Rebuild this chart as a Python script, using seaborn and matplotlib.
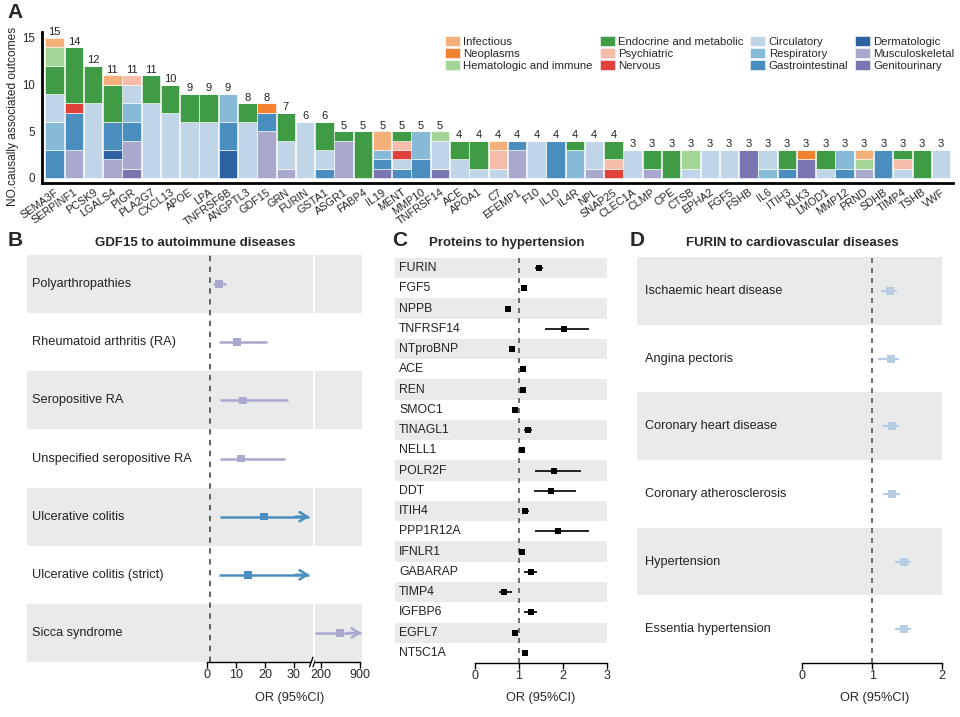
import matplotlib
matplotlib.use("Agg")
import matplotlib.pyplot as plt
import numpy as np
import pandas as pd
import seaborn as sns

# ---- panel A data: number of causally associated outcomes per protein ----
genes = ["SEMA3F", "SERPINF1", "PCSK9", "LGALS4", "PIGR", "PLA2G7", "CXCL13", "APOE", "LPA",
         "TNFRSF6B", "ANGPTL3", "GDF15", "GRN", "FURIN", "GSTA1", "ASGR1", "FABP4", "IL19",
         "MENT", "MMP10", "TNFRSF14", "ACE", "APOA1", "C7", "EFEMP1", "F10", "IL10", "IL4R",
         "NPL", "SNAP25", "CLEC1A", "CLMP", "CPE", "CTSB", "EPHA2", "FGF5", "FSHB", "IL6",
         "ITIH3", "KLK3", "LMOD1", "MMP12", "PRND", "SDHB", "TIMP4", "TSHB", "VWF"]

infectious = {"SEMA3F": 1, "LGALS4": 1, "IL19": 2, "C7": 1, "PRND": 1}
neoplasms = {"GDF15": 1, "KLK3": 1}
hematologic = {"SEMA3F": 2, "TNFRSF14": 1, "CTSB": 2, "PRND": 1}
endocrine = {"SEMA3F": 3, "SERPINF1": 6, "PCSK9": 4, "LGALS4": 4, "PLA2G7": 3, "CXCL13": 3,
             "APOE": 3, "LPA": 3, "ANGPTL3": 2, "GRN": 3, "GSTA1": 3, "ASGR1": 1, "FABP4": 5,
             "MENT": 1, "ACE": 2, "APOA1": 3, "IL4R": 1, "SNAP25": 2, "CLMP": 2, "CPE": 3,
             "ITIH3": 2, "LMOD1": 2, "TIMP4": 1, "TSHB": 3}
psychiatric = {"PIGR": 1, "MENT": 1, "C7": 2, "SNAP25": 1, "TIMP4": 1}
nervous = {"SERPINF1": 1, "MENT": 1, "SNAP25": 1}
circulatory = {"SEMA3F": 3, "PCSK9": 8, "PIGR": 2, "PLA2G7": 8, "CXCL13": 7, "APOE": 6, "LPA": 6,
               "ANGPTL3": 6, "GRN": 3, "FURIN": 6, "GSTA1": 2, "MENT": 1, "TNFRSF14": 3, "ACE": 2,
               "APOA1": 1, "C7": 1, "F10": 4, "NPL": 3, "CLEC1A": 3, "CTSB": 1, "EPHA2": 3,
               "FGF5": 3, "IL6": 2, "LMOD1": 1, "TIMP4": 1, "VWF": 3}
respiratory = {"SEMA3F": 3, "PIGR": 2, "TNFRSF6B": 3, "IL19": 1, "MMP10": 3, "IL4R": 3, "IL6": 1,
               "MMP12": 2}
gastrointestinal = {"SEMA3F": 3, "SERPINF1": 4, "LGALS4": 3, "PIGR": 2, "TNFRSF6B": 3, "GDF15": 2,
                    "GSTA1": 1, "IL19": 1, "MENT": 1, "MMP10": 2, "EFEMP1": 1, "IL10": 4,
                    "ITIH3": 1, "MMP12": 1, "SDHB": 3}
dermatologic = {"LGALS4": 1, "TNFRSF6B": 3}
musculoskeletal = {"SERPINF1": 3, "LGALS4": 2, "PIGR": 3, "GDF15": 5, "GRN": 1, "ASGR1": 4,
                   "EFEMP1": 3, "NPL": 1, "CLMP": 1, "PRND": 1}
genitourinary = {"PIGR": 1, "IL19": 1, "TNFRSF14": 1, "FSHB": 3, "KLK3": 2}

categories = ["Infectious", "Neoplasms", "Hematologic and immune", "Endocrine and metabolic",
              "Psychiatric", "Nervous", "Circulatory", "Respiratory", "Gastrointestinal",
              "Dermatologic", "Musculoskeletal", "Genitourinary"]
category_counts = [infectious, neoplasms, hematologic, endocrine, psychiatric, nervous,
                   circulatory, respiratory, gastrointestinal, dermatologic, musculoskeletal,
                   genitourinary]
cat_colors = ["#f4b07a", "#f28130", "#a3d596", "#3f9c45", "#f6bcaa", "#e0413a",
              "#c0d5e7", "#87bad7", "#4a8ec0", "#2c62a0", "#a9a9cd", "#7a76b2"]
palette = dict(zip(categories, cat_colors))

# ---- panel B: GDF15 to autoimmune diseases ----
b_outcomes = ["Polyarthropathies", "Rheumatoid arthritis (RA)", "Seropositive RA",
              "Unspecified seropositive RA", "Ulcerative colitis", "Ulcerative colitis (strict)",
              "Sicca syndrome"]
b_or = [4.2, 10.3, 12.4, 11.7, 19.7, 14.1, 541]
b_lo = [2.2, 4.1, 4.5, 4.5, 4.5, 4.1, 60]
b_hi = [6.5, 20.7, 27.9, 26.9, 60, 60, 1500]
b_group = ["Musculoskeletal"] * 4 + ["Gastrointestinal"] * 2 + ["Musculoskeletal"]

# ---- panel C: proteins to hypertension ----
c_proteins = ["FURIN", "FGF5", "NPPB", "TNFRSF14", "NTproBNP", "ACE", "REN", "SMOC1", "TINAGL1",
              "NELL1", "POLR2F", "DDT", "ITIH4", "PPP1R12A", "IFNLR1", "GABARAP", "TIMP4",
              "IGFBP6", "EGFL7", "NT5C1A"]
c_or = [1.45, 1.12, 0.76, 2.02, 0.85, 1.08, 1.10, 0.91, 1.20, 1.06,
        1.80, 1.73, 1.14, 1.88, 1.06, 1.27, 0.67, 1.27, 0.92, 1.14]
c_lo = [1.36, 1.08, 0.72, 1.59, 0.81, 1.05, 1.06, 0.88, 1.12, 1.03,
        1.36, 1.33, 1.07, 1.37, 1.02, 1.11, 0.55, 1.12, 0.88, 1.07]
c_hi = [1.54, 1.16, 0.80, 2.60, 0.89, 1.11, 1.14, 0.94, 1.30, 1.09,
        2.40, 2.30, 1.22, 2.58, 1.10, 1.42, 0.83, 1.40, 0.96, 1.21]

# ---- panel D: FURIN to cardiovascular diseases ----
d_outcomes = ["Ischaemic heart disease", "Angina pectoris", "Coronary heart disease",
              "Coronary atherosclerosis", "Hypertension", "Essentia hypertension"]
d_or = [1.26, 1.27, 1.28, 1.29, 1.45, 1.45]
d_lo = [1.13, 1.09, 1.14, 1.16, 1.33, 1.33]
d_hi = [1.35, 1.38, 1.38, 1.40, 1.55, 1.56]

band = "#e8ebea"
dash_col = "#555555"

sns.set_theme(style="white")
plt.rcParams['font.family'] = ['Liberation Sans', 'DejaVu Sans']
plt.rcParams['xtick.major.size'] = 4
plt.rcParams['xtick.major.width'] = 1
plt.rcParams['ytick.major.size'] = 4

fig = plt.figure(figsize=(9.6, 7.17), dpi=100)

# ================= A =================
axA = fig.add_axes([0.0434, 0.7448, 0.9493, 0.2106])
counts = pd.DataFrame({c: pd.Series(d, dtype=float) for c, d in zip(categories, category_counts)})
counts = counts.reindex(genes).fillna(0)
xpos = np.arange(len(genes))
bottom = np.zeros(len(genes))
handles = {}
for cat in categories[::-1]:
    vals = counts[cat].values
    bars = axA.bar(xpos, vals, bottom=bottom, width=0.96, color=palette[cat],
                   edgecolor="white", linewidth=0.4, label=cat)
    handles[cat] = bars
    bottom += vals
for xi, tot in zip(xpos, bottom):
    axA.text(xi, tot + 0.05, f"{int(tot)}", ha="center", va="bottom", fontsize=8, color="#222222")
axA.set_xlim(-0.67, len(genes) - 0.38)
axA.set_ylim(-0.54, 15.64)
axA.set_xticks(xpos)
axA.set_xticklabels(genes, rotation=35, ha="right", rotation_mode="anchor", fontsize=7.8)
axA.set_yticks([0, 5, 10, 15])
axA.tick_params(axis="y", labelsize=8.3, length=3, pad=1.5)
axA.tick_params(axis="x", length=2, pad=1)
axA.set_ylabel("NO.causally associated outcomes", fontsize=8.6)
axA.yaxis.set_label_coords(-0.0245, 0.44)
for s in ["top", "right"]:
    axA.spines[s].set_visible(False)
for s in ["left", "bottom"]:
    axA.spines[s].set_linewidth(2)
    axA.spines[s].set_color("black")
axA.legend([handles[c] for c in categories], categories, ncol=4, loc="upper left",
           bbox_to_anchor=(0.4425, 0.975), frameon=False, fontsize=8.2, borderaxespad=0,
           borderpad=0, handlelength=1.3, handleheight=1.05, handletextpad=0.3,
           labelspacing=0.08, columnspacing=0.62)

# ================= B (broken x axis) =================
b_rows = np.arange(len(b_outcomes))
bdf = pd.DataFrame({"row": b_rows, "OR": b_or, "lo": b_lo, "hi": b_hi, "group": b_group})
axB1 = fig.add_axes([0.0281, 0.0767, 0.2979, 0.5675])
axB2 = fig.add_axes([0.3281, 0.0767, 0.0490, 0.5675])
axB1.set_xlim(-62.07, 36.55)
axB2.set_xlim(92.3, 935.9)
for ax in (axB1, axB2):
    ax.set_ylim(len(b_outcomes) - 0.5, -0.5)
    for r in b_rows[::2]:
        ax.axhspan(r - 0.5, r + 0.5, color=band, zorder=0, lw=0)
    for s in ["top", "right", "left"]:
        ax.spines[s].set_visible(False)
    ax.spines["bottom"].set_color("black")
    ax.spines["bottom"].set_linewidth(1)
    ax.set_yticks([])
    ax.tick_params(axis="x", labelsize=9, pad=1, bottom=True, color="black")
    ax.set_facecolor("none")
axB1.axvline(1, color=dash_col, ls=(0, (3, 3)), lw=1.3, zorder=1)
cap1 = 35.3
cap2 = 925
for _, row in bdf.iterrows():
    col = palette[row["group"]]
    if row["lo"] < cap1:
        axB1.hlines(row["row"], row["lo"], min(row["hi"], cap1), color=col, lw=1.8, zorder=2)
        if row["hi"] > cap1:
            axB1.annotate("", xy=(cap1, row["row"]), xytext=(-10, 0), textcoords="offset points",
                          arrowprops=dict(arrowstyle="->,head_length=0.45,head_width=0.28",
                                          color=col, lw=1.8, shrinkA=0, shrinkB=0))
    if row["hi"] > axB2.get_xlim()[0]:
        axB2.hlines(row["row"], max(row["lo"], 92.3), min(row["hi"], cap2), color=col, lw=1.8,
                    zorder=2)
        if row["hi"] > cap2:
            axB2.annotate("", xy=(cap2, row["row"]), xytext=(-10, 0), textcoords="offset points",
                          arrowprops=dict(arrowstyle="->,head_length=0.45,head_width=0.28",
                                          color=col, lw=1.8, shrinkA=0, shrinkB=0))
for ax in (axB1, axB2):
    sns.scatterplot(data=bdf, x="OR", y="row", hue="group", palette=palette, marker="s", s=30,
                    linewidth=0, legend=False, ax=ax, zorder=3)
    ax.set_xlabel("")
    ax.set_ylabel("")
for r, name in zip(b_rows, b_outcomes):
    axB1.text(-60.3, r, name, va="center", ha="left", fontsize=9.2, color="#222222")
axB1.set_xticks([0, 10, 20, 30])
axB1.spines["bottom"].set_bounds(0, 35.6)
axB2.set_xticks([200, 900])
axB2.spines["bottom"].set_bounds(92.3, 900)
# break marks
for dx in (0.0, 0.012):
    axB1.plot([0.994 + dx - 0.006, 0.994 + dx + 0.006], [-0.012, 0.012], transform=axB1.transAxes,
              color="black", lw=0.9, clip_on=False)

# ================= C =================
c_rows = np.arange(len(c_proteins))
cdf = pd.DataFrame({"row": c_rows, "OR": c_or, "lo": c_lo, "hi": c_hi})
axC = fig.add_axes([0.4115, 0.0753, 0.2208, 0.5649])
axC.set_xlim(-1.818, 3.0)
axC.set_ylim(len(c_proteins) - 0.5, -0.5)
for r in c_rows[::2]:
    axC.axhspan(r - 0.5, r + 0.5, color=band, zorder=0, lw=0)
axC.axvline(1, color=dash_col, ls=(0, (3, 3)), lw=1.2, zorder=1)
axC.hlines(cdf["row"], cdf["lo"], cdf["hi"], color="black", lw=1.2, zorder=2)
sns.scatterplot(data=cdf, x="OR", y="row", marker="s", s=18, color="black", linewidth=0,
                ax=axC, zorder=3)
for r, name in zip(c_rows, c_proteins):
    axC.text(-1.73, r, name, va="center", ha="left", fontsize=8.8, color="#222222")

# ================= D =================
d_rows = np.arange(len(d_outcomes))
ddf = pd.DataFrame({"row": d_rows, "OR": d_or, "lo": d_lo, "hi": d_hi})
axD = fig.add_axes([0.6635, 0.0753, 0.3177, 0.5662])
axD.set_xlim(-2.37, 2.0)
axD.set_ylim(len(d_outcomes) - 0.5, -0.5)
for r in d_rows[::2]:
    axD.axhspan(r - 0.5, r + 0.5, color=band, zorder=0, lw=0)
axD.axvline(1, color=dash_col, ls=(0, (3, 3)), lw=1.2, zorder=1)
axD.hlines(ddf["row"], ddf["lo"], ddf["hi"], color="#b8cde3", lw=1.6, zorder=2)
sns.scatterplot(data=ddf, x="OR", y="row", marker="s", s=28, color="#b8cde3", linewidth=0,
                ax=axD, zorder=3)
for r, name in zip(d_rows, d_outcomes):
    axD.text(-2.25, r, name, va="center", ha="left", fontsize=9.2, color="#222222")

for ax, ticks in ((axC, [0, 1, 2, 3]), (axD, [0, 1, 2])):
    for s in ["top", "right", "left"]:
        ax.spines[s].set_visible(False)
    ax.spines["bottom"].set_color("black")
    ax.spines["bottom"].set_linewidth(1)
    ax.spines["bottom"].set_bounds(ticks[0], ticks[-1])
    ax.set_xticks(ticks)
    ax.set_yticks([])
    ax.set_xlabel("")
    ax.set_ylabel("")
    ax.tick_params(axis="x", labelsize=9, pad=1, bottom=True, color="black")

# titles, axis labels and panel letters
fig.text(0.203, 0.661, "GDF15 to autoimmune diseases", ha="center", va="center",
         fontsize=9.5, fontweight="bold")
fig.text(0.528, 0.661, "Proteins to hypertension", ha="center", va="center",
         fontsize=9.5, fontweight="bold")
fig.text(0.825, 0.661, "FURIN to cardiovascular diseases", ha="center", va="center",
         fontsize=9.5, fontweight="bold")
for xf in (0.302, 0.5635, 0.9115):
    fig.text(xf, 0.027, "OR (95%CI)", ha="center", va="center", fontsize=9.2)
for letter, xf, yf in (("A", 0.016, 0.982), ("B", 0.0155, 0.665), ("C", 0.4165, 0.665),
                       ("D", 0.6635, 0.665)):
    fig.text(xf, yf, letter, ha="center", va="center", fontsize=15, fontweight="bold")

fig.savefig("out.png", dpi=100)
